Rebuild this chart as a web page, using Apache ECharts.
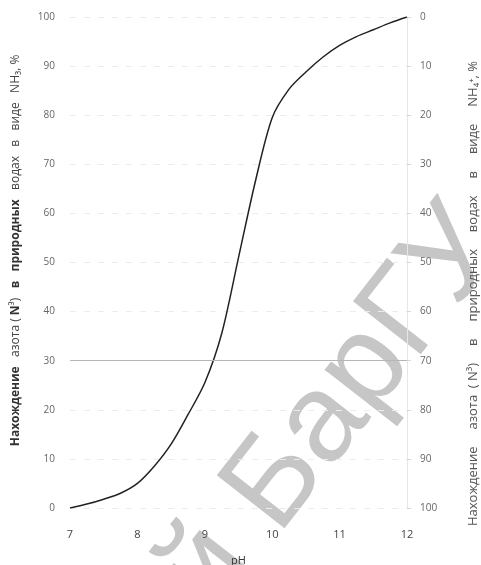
<!DOCTYPE html>
<html>
<head>
<meta charset="utf-8">
<script src="https://cdn.jsdelivr.net/npm/echarts@6/dist/echarts.min.js"></script>
<style>
  html, body { margin: 0; padding: 0; background: #fff; }
  #chart { width: 481px; height: 565px; }
</style>
</head>
<body>
<div id="chart"></div>
<script>
// данные кривой (pH -> доля NH3, %)
var phValues = [7, 7.25, 7.5, 7.75, 8, 8.25, 8.5, 8.75, 9, 9.25, 9.5, 9.75, 10, 10.25, 10.5, 10.75, 11, 11.25, 11.5, 11.75, 12];
var nh3Values = [0, 0.8, 1.8, 3, 5, 8.5, 13, 19, 25.5, 35.5, 51, 66.5, 79.5, 85.3, 88.8, 91.8, 94.2, 96, 97.4, 98.8, 100];
var xTicks = [7, 8, 9, 10, 11, 12];
var leftTicks = [0, 10, 20, 30, 40, 50, 60, 70, 80, 90, 100];
var rightTicks = [0, 10, 20, 30, 40, 50, 60, 70, 80, 90, 100];

var leftName = '{b|Нахождение}   азота ( {b|N}³)   {b|в   природных}   водах   в   виде   NH₃, %';
var rightName = 'Нахождение     азота  ( N³)     в     природных     водах     в     виде     NH₄⁺, %';

var points = [];
for (var i = 0; i < phValues.length; i++) {
  points.push([phValues[i], nh3Values[i]]);
}

var font = '"Open Sans", "DejaVu Sans", sans-serif';
var myChart = echarts.init(document.getElementById('chart'));
var option = {
  backgroundColor: '#fff',
  animation: false,
  grid: { left: 70, right: 74, top: 17, bottom: 57, containLabel: false, outerBoundsMode: 'none' },
  xAxis: {
    type: 'value',
    min: xTicks[0],
    max: xTicks[xTicks.length - 1],
    interval: 1,
    name: 'pH',
    nameLocation: 'middle',
    nameGap: 47,
    nameTextStyle: { color: '#333', fontSize: 11, fontFamily: font },
    axisLine: { show: false },
    axisTick: { show: false },
    splitLine: { show: false },
    axisLabel: { color: '#444', fontSize: 11, margin: 21, fontFamily: font }
  },
  yAxis: [
    {
      type: 'value',
      position: 'left',
      min: leftTicks[0],
      max: leftTicks[leftTicks.length - 1],
      interval: 10,
      name: leftName,
      nameLocation: 'middle',
      nameRotate: 90,
      nameGap: 48,
      nameTextStyle: {
        color: '#444', fontSize: 12, fontFamily: font,
        padding: [0, 0, 0, 24],
        rich: { b: { color: '#333', fontSize: 12, fontWeight: 'bold', fontFamily: font } }
      },
      axisLine: { show: false },
      axisTick: { show: false },
      axisLabel: { color: '#666', fontSize: 10, margin: 15, fontFamily: font },
      splitLine: { show: true, lineStyle: { color: '#ececec', type: [6, 8] } }
    },
    {
      type: 'value',
      position: 'right',
      inverse: true,
      min: rightTicks[0],
      max: rightTicks[rightTicks.length - 1],
      interval: 10,
      name: rightName,
      nameLocation: 'middle',
      nameRotate: 90,
      nameGap: 60,
      nameTextStyle: {
        color: '#555', fontSize: 13, fontFamily: font,
        padding: [0, 62, 0, 0]
      },
      axisLine: { show: true, lineStyle: { color: '#e6e6e6' } },
      axisTick: { show: true, length: 4, lineStyle: { color: '#d8d8d8' } },
      axisLabel: { color: '#666', fontSize: 10, margin: 13, fontFamily: font },
      splitLine: { show: false }
    }
  ],
  series: [
    {
      type: 'line',
      data: points,
      smooth: 0.3,
      showSymbol: false,
      lineStyle: { color: '#222', width: 1.5 },
      markLine: {
        silent: true,
        symbol: 'none',
        label: { show: false },
        lineStyle: { color: '#b5b5b5', type: 'solid', width: 1 },
        data: [{ yAxis: 30 }]
      }
    }
  ],
  // водяной знак
  graphic: [
    {
      type: 'text',
      x: 236,
      y: 636,
      rotation: 52 * Math.PI / 180,
      z: -1,
      silent: true,
      style: {
        text: 'й БарГУ',
        font: '125px "Liberation Sans", sans-serif',
        fill: '#c6c6c6',
        textVerticalAlign: 'bottom'
      }
    }
  ]
};
myChart.setOption(option);
</script>
</body>
</html>
